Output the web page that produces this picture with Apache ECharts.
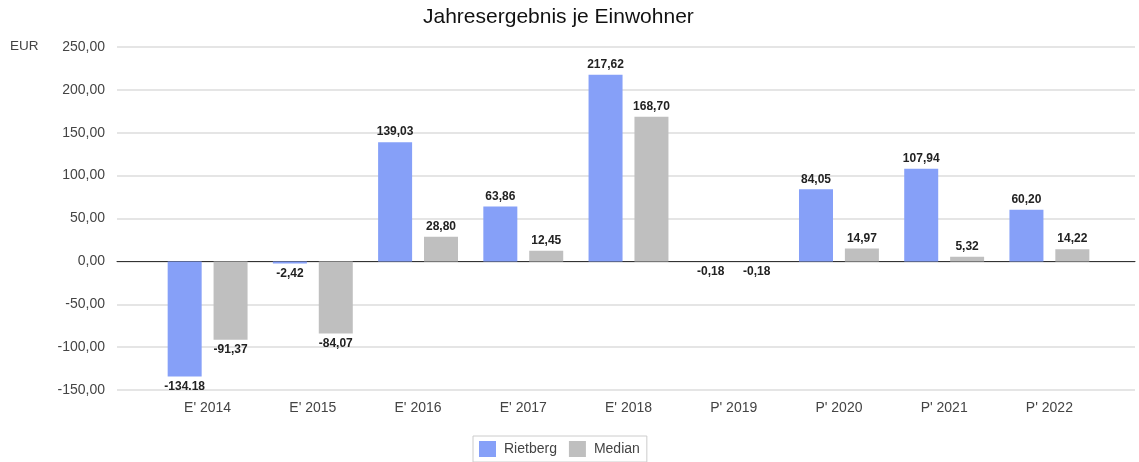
<!DOCTYPE html>
<html>
<head>
<meta charset="utf-8">
<script src="https://cdn.jsdelivr.net/npm/echarts@6/dist/echarts.min.js"></script>
<style>
  html, body { margin: 0; padding: 0; background: #fff; }
  #jahresergebnis { width: 1139px; height: 462px; }
</style>
</head>
<body>
<div id="jahresergebnis"></div>
<script>
// Daten
var categories = ["E' 2014", "E' 2015", "E' 2016", "E' 2017", "E' 2018", "P' 2019", "P' 2020", "P' 2021", "P' 2022"]
var rietberg = [-134.18, -2.42, 139.03, 63.86, 217.62, -0.18, 84.05, 107.94, 60.20]
var median = [-91.37, -84.07, 28.80, 12.45, 168.70, -0.18, 14.97, 5.32, 14.22]
var rietbergLabels = ['-134.18', '-2,42', '139,03', '63,86', '217,62', '-0,18', '84,05', '107,94', '60,20']
var medianLabels = ['-91,37', '-84,07', '28,80', '12,45', '168,70', '-0,18', '14,97', '5,32', '14,22']
var yMin = -150
var yMax = 250
var yStep = 50

var font = "'Liberation Sans', Arial, sans-serif"

function toItems (values, labels) {
  return values.map(function (v, i) {
    return {
      value: v,
      label: { position: v < 0 ? 'bottom' : 'top', formatter: labels[i] }
    }
  })
}

var chart = echarts.init(document.getElementById('jahresergebnis'))

var barLabel = {
  show: true,
  distance: 4,
  fontSize: 12,
  fontWeight: 'bold',
  color: '#222',
  fontFamily: font
}

var option = {
  backgroundColor: '#fff',
  animation: false,
  color: ['#86A0F8', '#BFBFBF'],
  title: [
    {
      text: 'Jahresergebnis je Einwohner',
      left: 423,
      top: 7,
      padding: 0,
      textStyle: { fontSize: 21, fontWeight: 'normal', color: '#111', fontFamily: font }
    },
    {
      text: 'EUR',
      left: 10,
      top: 39,
      padding: 0,
      textStyle: { fontSize: 13.5, fontWeight: 'normal', color: '#444', fontFamily: font }
    }
  ],
  legend: {
    data: ['Rietberg', 'Median'],
    left: 473,
    top: 436,
    padding: [5, 7, 5, 6],
    borderColor: '#ccc',
    borderWidth: 1,
    itemWidth: 17,
    itemHeight: 16,
    itemGap: 12,
    icon: 'rect',
    textStyle: { fontSize: 14, color: '#444', fontFamily: font, padding: [0, 0, 0, 3] }
  },
  grid: [
    { left: 117, right: 4, top: 47, bottom: 72 },
    { left: 155, right: 37, top: 47, bottom: 72 }
  ],
  xAxis: [
    {
      // breite Achse nur fuer Gitterlinien und Nulllinie
      gridIndex: 0,
      type: 'value',
      min: 0,
      max: 1,
      axisLine: { show: true, onZero: true, lineStyle: { color: '#333', width: 1 } },
      axisTick: { show: false },
      axisLabel: { show: false },
      splitLine: { show: false }
    },
    {
      gridIndex: 1,
      type: 'category',
      data: categories,
      axisLine: { show: false },
      axisTick: { show: false },
      axisLabel: { margin: 11, fontSize: 14, color: '#444', fontFamily: font }
    }
  ],
  yAxis: [
    {
      gridIndex: 0,
      type: 'value',
      min: yMin,
      max: yMax,
      interval: yStep,
      axisLine: { show: false },
      axisTick: { show: false },
      axisLabel: {
        margin: 12,
        fontSize: 14,
        color: '#444',
        fontFamily: font,
        formatter: function (v) { return v.toFixed(2).replace('.', ',') }
      },
      splitLine: { lineStyle: { color: '#dcdcdc', width: 1.5 } }
    },
    {
      gridIndex: 1,
      type: 'value',
      min: yMin,
      max: yMax,
      interval: yStep,
      show: false,
      splitLine: { show: false }
    }
  ],
  series: [
    {
      name: 'Rietberg',
      type: 'bar',
      xAxisIndex: 1,
      yAxisIndex: 1,
      barWidth: 34,
      barGap: '35%',
      label: barLabel,
      data: toItems(rietberg, rietbergLabels)
    },
    {
      name: 'Median',
      type: 'bar',
      xAxisIndex: 1,
      yAxisIndex: 1,
      barWidth: 34,
      barGap: '35%',
      label: barLabel,
      data: toItems(median, medianLabels)
    }
  ]
}

chart.setOption(option)
</script>
</body>
</html>
